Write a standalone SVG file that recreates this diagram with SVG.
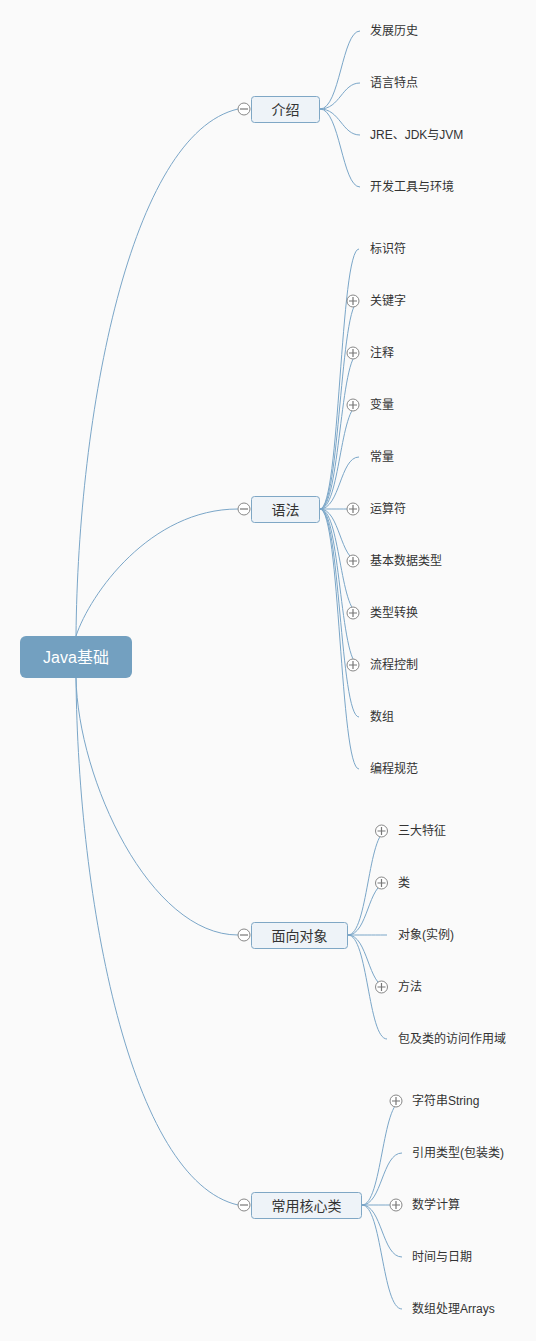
<svg xmlns="http://www.w3.org/2000/svg" width="536" height="1341" viewBox="0 0 536 1341">
<defs>
<style>
.bg{fill:#fafafa}
.ln{fill:none;stroke:#7aa6c8;stroke-width:1}
.root{fill:#73a0c0}
.rt{fill:#ffffff;font-family:"Liberation Sans","Noto Sans CJK SC",sans-serif;font-size:16px}
.box{fill:#eef3f8;stroke:#7fa7c5;stroke-width:1}
.bt{fill:#333333;font-family:"Liberation Sans","Noto Sans CJK SC",sans-serif;font-size:14px}
.ct{fill:#333333;font-family:"Liberation Sans","Noto Sans CJK SC",sans-serif;font-size:12px}
.tg{fill:#ffffff;stroke:#888888;stroke-width:1}
.tgl{stroke:#777777;stroke-width:1.2;fill:none}
</style>
<g id="minus"><circle class="tg" cx="0" cy="0" r="6"/><path class="tgl" d="M-4,0H4"/></g>
<g id="plus"><circle class="tg" cx="0" cy="0" r="6"/><path class="tgl" d="M-4,0H4M0,-4V4"/></g>
</defs>
<rect class="bg" x="0" y="0" width="536" height="1341"/>
<g id="connectors">
<path class="ln" d="M76,636 C78,414 130,134 238,109"/>
<path class="ln" d="M76,636 C90,594 150,509 238,509"/>
<path class="ln" d="M76,678 C78,780 150,935 238,935"/>
<path class="ln" d="M76,678 C78,900 130,1180 238,1205"/>
<path class="ln" d="M320,109 C340,109 342,31 360,31"/>
<path class="ln" d="M320,109 C340,109 342,83 360,83"/>
<path class="ln" d="M320,109 C340,109 342,135 360,135"/>
<path class="ln" d="M320,109 C340,109 342,187 360,187"/>
<path class="ln" d="M320,509 C340,509 340,249 359,249"/>
<path class="ln" d="M320,509 C340,509 340,301 359,301"/>
<path class="ln" d="M320,509 C340,509 340,353 359,353"/>
<path class="ln" d="M320,509 C340,509 340,405 359,405"/>
<path class="ln" d="M320,509 C340,509 340,457 359,457"/>
<path class="ln" d="M320,509 C340,509 340,509 359,509"/>
<path class="ln" d="M320,509 C340,509 340,561 359,561"/>
<path class="ln" d="M320,509 C340,509 340,613 359,613"/>
<path class="ln" d="M320,509 C340,509 340,665 359,665"/>
<path class="ln" d="M320,509 C340,509 340,717 359,717"/>
<path class="ln" d="M320,509 C340,509 340,769 359,769"/>
<path class="ln" d="M348,935 C368,935 368,831 387,831"/>
<path class="ln" d="M348,935 C368,935 368,883 387,883"/>
<path class="ln" d="M348,935 C368,935 368,935 387,935"/>
<path class="ln" d="M348,935 C368,935 368,987 387,987"/>
<path class="ln" d="M348,935 C368,935 368,1039 387,1039"/>
<path class="ln" d="M362,1205 C382,1205 382,1101 402,1101"/>
<path class="ln" d="M362,1205 C382,1205 382,1153 402,1153"/>
<path class="ln" d="M362,1205 C382,1205 382,1205 402,1205"/>
<path class="ln" d="M362,1205 C382,1205 382,1257 402,1257"/>
<path class="ln" d="M362,1205 C382,1205 382,1309 402,1309"/>
</g>
<g id="root">
<rect class="root" x="20" y="636" width="112" height="42" rx="6"/>
<text class="rt" x="76" y="657" text-anchor="middle" dominant-baseline="central">Java基础</text>
</g>
<g id="n-intro">
<use href="#minus" x="244" y="109"/>
<rect class="box" x="251.5" y="96.5" width="68" height="26" rx="3"/>
<text class="bt" x="285.5" y="109.5" text-anchor="middle" dominant-baseline="central">介绍</text>
</g>
<g id="n-intro-1"><text class="ct" x="370" y="31" dominant-baseline="central">发展历史</text></g>
<g id="n-intro-2"><text class="ct" x="370" y="83" dominant-baseline="central">语言特点</text></g>
<g id="n-intro-3"><text class="ct" x="370" y="135" dominant-baseline="central">JRE、JDK与JVM</text></g>
<g id="n-intro-4"><text class="ct" x="370" y="187" dominant-baseline="central">开发工具与环境</text></g>
<g id="n-syntax">
<use href="#minus" x="244" y="509"/>
<rect class="box" x="251.5" y="496.5" width="68" height="26" rx="3"/>
<text class="bt" x="285.5" y="509.5" text-anchor="middle" dominant-baseline="central">语法</text>
</g>
<g id="n-syntax-1"><text class="ct" x="370" y="249" dominant-baseline="central">标识符</text></g>
<g id="n-syntax-2"><use href="#plus" x="353" y="301"/><text class="ct" x="370" y="301" dominant-baseline="central">关键字</text></g>
<g id="n-syntax-3"><use href="#plus" x="353" y="353"/><text class="ct" x="370" y="353" dominant-baseline="central">注释</text></g>
<g id="n-syntax-4"><use href="#plus" x="353" y="405"/><text class="ct" x="370" y="405" dominant-baseline="central">变量</text></g>
<g id="n-syntax-5"><text class="ct" x="370" y="457" dominant-baseline="central">常量</text></g>
<g id="n-syntax-6"><use href="#plus" x="353" y="509"/><text class="ct" x="370" y="509" dominant-baseline="central">运算符</text></g>
<g id="n-syntax-7"><use href="#plus" x="353" y="561"/><text class="ct" x="370" y="561" dominant-baseline="central">基本数据类型</text></g>
<g id="n-syntax-8"><use href="#plus" x="353" y="613"/><text class="ct" x="370" y="613" dominant-baseline="central">类型转换</text></g>
<g id="n-syntax-9"><use href="#plus" x="353" y="665"/><text class="ct" x="370" y="665" dominant-baseline="central">流程控制</text></g>
<g id="n-syntax-10"><text class="ct" x="370" y="717" dominant-baseline="central">数组</text></g>
<g id="n-syntax-11"><text class="ct" x="370" y="769" dominant-baseline="central">编程规范</text></g>
<g id="n-oop">
<use href="#minus" x="244" y="935"/>
<rect class="box" x="251.5" y="922.5" width="96" height="26" rx="3"/>
<text class="bt" x="299.5" y="935.5" text-anchor="middle" dominant-baseline="central">面向对象</text>
</g>
<g id="n-oop-1"><use href="#plus" x="381.5" y="831"/><text class="ct" x="398" y="831" dominant-baseline="central">三大特征</text></g>
<g id="n-oop-2"><use href="#plus" x="381.5" y="883"/><text class="ct" x="398" y="883" dominant-baseline="central">类</text></g>
<g id="n-oop-3"><text class="ct" x="398" y="935" dominant-baseline="central">对象(实例)</text></g>
<g id="n-oop-4"><use href="#plus" x="381.5" y="987"/><text class="ct" x="398" y="987" dominant-baseline="central">方法</text></g>
<g id="n-oop-5"><text class="ct" x="398" y="1039" dominant-baseline="central">包及类的访问作用域</text></g>
<g id="n-core">
<use href="#minus" x="244" y="1205"/>
<rect class="box" x="251.5" y="1192.5" width="110" height="26" rx="3"/>
<text class="bt" x="306.5" y="1205.5" text-anchor="middle" dominant-baseline="central">常用核心类</text>
</g>
<g id="n-core-1"><use href="#plus" x="396" y="1101"/><text class="ct" x="412" y="1101" dominant-baseline="central">字符串String</text></g>
<g id="n-core-2"><text class="ct" x="412" y="1153" dominant-baseline="central">引用类型(包装类)</text></g>
<g id="n-core-3"><use href="#plus" x="396" y="1205"/><text class="ct" x="412" y="1205" dominant-baseline="central">数学计算</text></g>
<g id="n-core-4"><text class="ct" x="412" y="1257" dominant-baseline="central">时间与日期</text></g>
<g id="n-core-5"><text class="ct" x="412" y="1309" dominant-baseline="central">数组处理Arrays</text></g>
</svg>
